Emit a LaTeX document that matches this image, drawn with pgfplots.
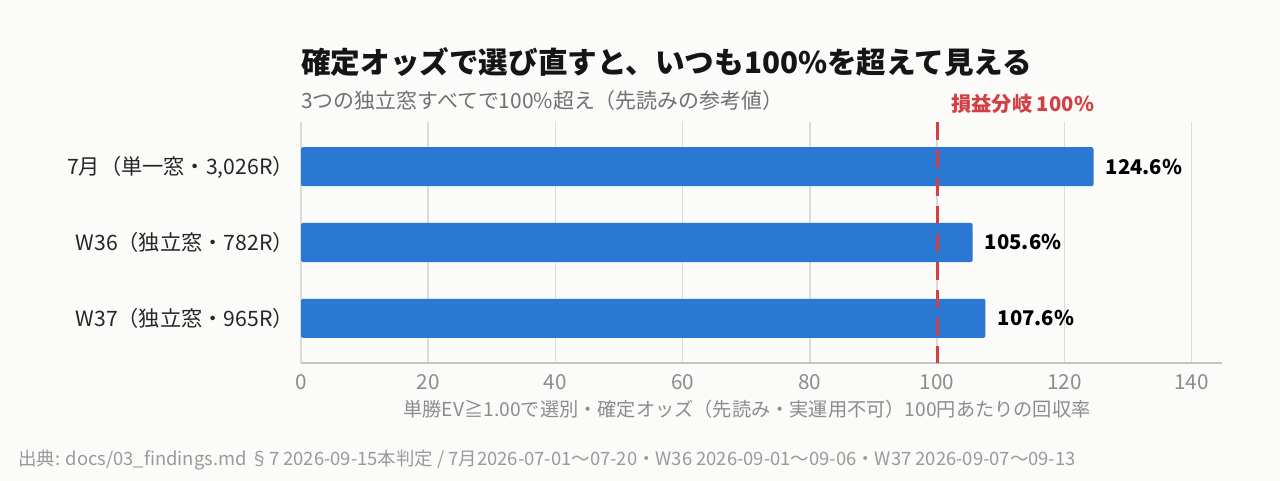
\documentclass[border=0pt]{standalone}
\usepackage{fontspec}
\setmainfont{Noto Sans CJK JP}
\usepackage{pgfplots}
\pgfplotsset{compat=1.18}
\definecolor{bg}{HTML}{FBFBF9}
\definecolor{barc}{HTML}{2A78D4}
\definecolor{gridc}{HTML}{DCDCD6}
\definecolor{axc}{HTML}{C4C4C0}
\definecolor{tickc}{HTML}{8C8C8C}
\definecolor{subc}{HTML}{707070}
\definecolor{footc}{HTML}{9A9A9A}
\definecolor{redc}{HTML}{D43F46}
\definecolor{titc}{HTML}{151515}
\begin{document}
\begin{tikzpicture}[x=0.75pt,y=0.75pt]
\fill[bg] (0,0) rectangle (1280,481);
\path[use as bounding box] (0,0) rectangle (1280,481);
\begin{axis}[
  at={(225.75pt,88.5pt)}, anchor=south west,
  scale only axis, width=690.75pt, height=180.75pt,
  xmin=0, xmax=144.8, ymin=-0.59, ymax=2.59,
  xbar, bar width=0.515,
  axis x line*=bottom, axis y line*=left,
  y axis line style={draw=none},
  x axis line style={draw=axc, line width=1.1pt, -},
  major tick length=0,
  xtick={0,20,...,140},
  ytick={0,1,2},
  yticklabels={{W37（独立窓・965R）}, {W36（独立窓・782R）}, {7月（単一窓・3,026R）}},
  xmajorgrids, grid style={draw=gridc, line width=1.1pt},
  /pgf/number format/assume math mode=true,
  xticklabel style={font=\fontsize{15.5}{18}\selectfont, text=tickc, anchor=base, inner sep=0pt, yshift=-19.9pt},
  yticklabel style={font=\fontsize{15.9}{18}\selectfont, text=black!85, anchor=base east, inner sep=0pt, xshift=-5.25pt, yshift=-5.9pt},
  nodes near coords={\textbf{\pgfmathprintnumber[fixed,precision=1,fixed zerofill]{\pgfplotspointmeta}\%}},
  nodes near coords style={font=\fontsize{15.2}{18}\selectfont, text=black, anchor=base west, inner sep=0pt, xshift=9pt, yshift=-5.6pt},
  clip=false,
]
\addplot[fill=barc, draw=none, rounded corners=1.5pt] coordinates {(107.6,0) (105.6,1) (124.6,2)};
\addplot[sharp plot, draw=redc, line width=2.3pt, dash pattern=on 13.5pt off 7.5pt, nodes near coords={}, mark=none] coordinates {(100,2.59) (100,-0.59)};
\end{axis}
\node[anchor=base west, inner sep=0pt, text=titc, font=\fontsize{22.2}{26}\selectfont\bfseries] at (301,407) {確定オッズで選び直すと、いつも100\%を超えて見える};
\node[anchor=base west, inner sep=0pt, text=subc, font=\fontsize{15.7}{18}\selectfont] at (301,372) {3つの独立窓すべてで100\%超え（先読みの参考値）};
\node[anchor=base west, inner sep=0pt, text=redc, font=\fontsize{15.2}{18}\selectfont\bfseries] at (951,369) {損益分岐 100\%};
\node[anchor=base, inner sep=0pt, text=tickc, font=\fontsize{14.4}{18}\selectfont] at (747,64) {単勝EV≧1.00で選別・確定オッズ（先読み・実運用不可）100円あたりの回収率};
\node[anchor=base west, inner sep=0pt, text=footc, font=\fontsize{13.8}{16}\selectfont] at (18,15) {出典: docs/03\_findings.md §7 2026-09-15本判定 / 7月2026-07-01〜07-20・W36 2026-09-01〜09-06・W37 2026-09-07〜09-13};
\end{tikzpicture}
\end{document}
